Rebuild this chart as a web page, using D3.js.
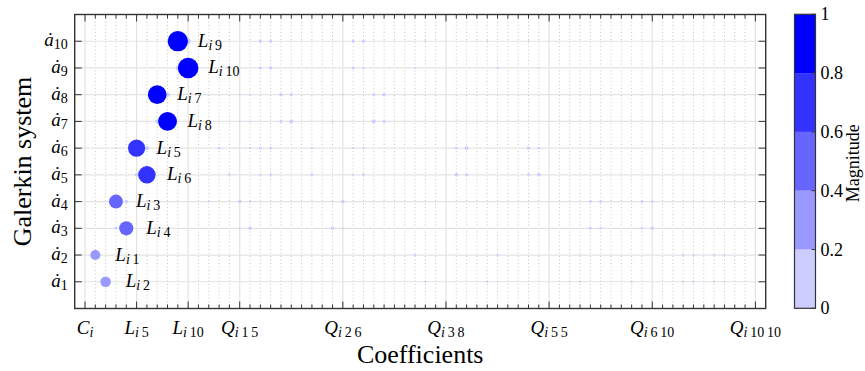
<!DOCTYPE html>
<html>
<head>
<meta charset="utf-8">
<script src="https://cdn.jsdelivr.net/npm/d3@7"></script>
<style>
    body { margin: 0; background: #fff; }
    svg { display: block; }
    svg text { font-family: "Liberation Serif", "Times New Roman", Times, "DejaVu Serif", serif; }
</style>
</head>
<body>
<div id="main"></div>
<script>
main = "#main"

// rows of the Galerkin system (a-dot 1..10)
let rowNames = ["1", "2", "3", "4", "5", "6", "7", "8", "9", "10"]

// x ticks: coefficient index -> label
let xTickPos = [1, 6, 11, 16, 26, 36, 46, 56, 66]
let xTickBase = ["C", "L", "L", "Q", "Q", "Q", "Q", "Q", "Q"]
let xTickSub = [[], ["5"], ["10"], ["1", "5"], ["2", "6"], ["3", "8"], ["5", "5"], ["6", "10"], ["10", "10"]]

// dominant linear term of each row
let mainRow = [1, 2, 3, 4, 5, 6, 7, 8, 9, 10]
let mainCoef = [3, 2, 5, 4, 7, 6, 9, 8, 11, 10]
let mainMag = [0.26, 0.24, 0.47, 0.46, 0.72, 0.69, 0.84, 0.82, 1.0, 0.97]
let mainSub = ["2", "1", "4", "3", "6", "5", "8", "7", "10", "9"]

// weak terms: [row, coefficient index, magnitude]
let weakTerms = [
    [10, 11, 0.07], [10, 18, 0.02], [10, 19, 0.02], [10, 27, 0.02], [10, 28, 0.02], [10, 34, 0.008], [10, 40, 0.008], [10, 44, 0.008],
    [9, 10, 0.05], [9, 18, 0.02], [9, 19, 0.025], [9, 27, 0.02], [9, 28, 0.015], [9, 33, 0.008], [9, 41, 0.012], [9, 45, 0.008],
    [8, 9, 0.05], [8, 16, 0.008], [8, 17, 0.008], [8, 20, 0.03], [8, 21, 0.02], [8, 25, 0.008], [8, 26, 0.008], [8, 29, 0.02], [8, 30, 0.03],
    [7, 8, 0.04], [7, 16, 0.008], [7, 17, 0.008], [7, 20, 0.02], [7, 21, 0.035], [7, 25, 0.008], [7, 26, 0.008], [7, 29, 0.035], [7, 30, 0.02],
    [6, 4, 0.008], [6, 7, 0.04], [6, 14, 0.015], [6, 17, 0.01], [6, 18, 0.015], [6, 19, 0.015], [6, 23, 0.01], [6, 27, 0.01], [6, 28, 0.01],
    [6, 37, 0.02], [6, 38, 0.03], [6, 44, 0.025], [6, 45, 0.015],
    [5, 6, 0.03], [5, 15, 0.015], [5, 18, 0.01], [5, 19, 0.015], [5, 23, 0.015], [5, 27, 0.01], [5, 28, 0.015], [5, 37, 0.03], [5, 38, 0.02],
    [5, 44, 0.015], [5, 45, 0.03],
    [4, 5, 0.03], [4, 13, 0.01], [4, 16, 0.03], [4, 17, 0.01], [4, 25, 0.01], [4, 26, 0.03], [4, 50, 0.02], [4, 51, 0.02], [4, 55, 0.02], [4, 56, 0.015],
    [3, 4, 0.02], [3, 16, 0.01], [3, 17, 0.03], [3, 25, 0.03], [3, 26, 0.01], [3, 50, 0.02], [3, 51, 0.015], [3, 55, 0.015], [3, 56, 0.025],
    [2, 33, 0.012], [2, 41, 0.012], [2, 49, 0.005], [2, 59, 0.01], [2, 60, 0.01], [2, 62, 0.01], [2, 63, 0.01],
    [1, 34, 0.012], [1, 40, 0.012], [1, 41, 0.005], [1, 48, 0.005], [1, 49, 0.01], [1, 54, 0.01], [1, 59, 0.01], [1, 60, 0.012], [1, 62, 0.01], [1, 63, 0.01]
]

// colour bar
let cbLevels = [0, 0.2, 0.4, 0.6, 0.8, 1]
let cbColors = ["#ccccff", "#9999ff", "#6666ff", "#3333ff", "#0000ff"]

let margin = {top: 14.5, right: 99.3, bottom: 62.5, left: 74.7},
    width = 865 - margin.left - margin.right,
    height = 371 - margin.top - margin.bottom;

let fs = 19, subFs = 14
let axisColor = "#333"
let serif = "'Liberation Serif', 'Times New Roman', Times, 'DejaVu Serif', serif"

let x = d3.scaleLinear().domain([0, 67]).range([0, width])
let y = d3.scaleLinear().domain([0, 11]).range([height, 0])
let r = d3.scaleSqrt().domain([0, 1]).range([0, 10.3])
let color = d3.scaleThreshold().domain(cbLevels.slice(1, -1)).range(cbColors)

let svgRoot = d3.select(main).append("svg")
    .attr("width", 865)
    .attr("height", 371)
    .attr("font-family", serif)

let svg = svgRoot.append("g")
    .attr("transform", "translate(" + margin.left + "," + margin.top + ")")

// writes  Base_{i a b}  style math text into a <text>
function mathText(sel, base, sub, withI) {
    sel.append("tspan").attr("font-style", "italic").text(base)
    let first = sel.append("tspan").attr("font-size", subFs).attr("dy", 3)
    if (withI) {
        first.attr("font-style", "italic").text("i")
        if (sub.length) sel.append("tspan").attr("font-size", subFs).text("\u2009" + sub.join("\u2009"))
    } else {
        first.text(sub.join(""))
    }
}

// grid
let allCoef = d3.range(1, 67)
svg.append("g").selectAll("line")
    .data(allCoef.filter(d => xTickPos.indexOf(d) < 0))
    .enter().append("line")
    .attr("x1", d => x(d)).attr("x2", d => x(d))
    .attr("y1", 0).attr("y2", height)
    .attr("stroke", "#c8c8c8")
    .attr("stroke-width", 1)
    .attr("stroke-dasharray", "1,2.5")

svg.append("g").selectAll("line")
    .data(xTickPos)
    .enter().append("line")
    .attr("x1", d => x(d)).attr("x2", d => x(d))
    .attr("y1", 0).attr("y2", height)
    .attr("stroke", "#e3e3e3")
    .attr("stroke-width", 1.2)

svg.append("g").selectAll("line")
    .data(rowNames)
    .enter().append("line")
    .attr("x1", 0).attr("x2", width)
    .attr("y1", d => y(+d)).attr("y2", d => y(+d))
    .attr("stroke", "#e3e3e3")
    .attr("stroke-width", 1.2)

// weak terms
svg.append("g").selectAll("circle")
    .data(weakTerms)
    .enter().append("circle")
    .attr("cx", d => x(d[1]))
    .attr("cy", d => y(d[0]))
    .attr("r", d => r(d[2]))
    .attr("fill", d => color(d[2]))

// dominant terms
let mainData = mainRow.map((row, i) => ({row: row, coef: mainCoef[i], mag: mainMag[i], sub: mainSub[i]}))

svg.append("g").selectAll("circle")
    .data(mainData)
    .enter().append("circle")
    .attr("cx", d => x(d.coef))
    .attr("cy", d => y(d.row))
    .attr("r", d => r(d.mag))
    .attr("fill", d => color(d.mag))

svg.append("g").selectAll("text")
    .data(mainData)
    .enter().append("text")
    .attr("x", d => x(d.coef) + 20)
    .attr("y", d => y(d.row) + 5.5)
    .attr("font-size", fs)
    .attr("fill", "#000")
    .each(function (d) { mathText(d3.select(this), "L", [d.sub], true) })

// axes box and ticks
let ticks = svg.append("g").attr("stroke", axisColor).attr("stroke-width", 1)
allCoef.forEach(function (c) {
    let len = xTickPos.indexOf(c) >= 0 ? 7 : 4
    ticks.append("line").attr("x1", x(c)).attr("x2", x(c)).attr("y1", height).attr("y2", height - len)
    ticks.append("line").attr("x1", x(c)).attr("x2", x(c)).attr("y1", 0).attr("y2", len)
})
rowNames.forEach(function (d) {
    ticks.append("line").attr("x1", 0).attr("x2", 7).attr("y1", y(+d)).attr("y2", y(+d))
    ticks.append("line").attr("x1", width - 7).attr("x2", width).attr("y1", y(+d)).attr("y2", y(+d))
})

svg.append("rect")
    .attr("width", width)
    .attr("height", height)
    .attr("fill", "none")
    .attr("stroke", axisColor)
    .attr("stroke-width", 1.4)

// tick labels
svg.append("g").selectAll("text")
    .data(xTickPos)
    .enter().append("text")
    .attr("x", d => x(d))
    .attr("y", height + 25)
    .attr("text-anchor", "middle")
    .attr("font-size", fs)
    .each(function (d, i) { mathText(d3.select(this), xTickBase[i], xTickSub[i], true) })

svg.append("g").selectAll("text")
    .data(rowNames)
    .enter().append("text")
    .attr("x", -7)
    .attr("y", d => y(+d) + 5)
    .attr("text-anchor", "end")
    .attr("font-size", fs)
    .each(function (d) { mathText(d3.select(this), "\u0227", [d], false) })

// axis titles
svg.append("text")
    .attr("x", width / 2)
    .attr("y", height + 54)
    .attr("text-anchor", "middle")
    .attr("font-size", 26)
    .text("Coefficients")

svg.append("text")
    .attr("transform", "translate(" + (-margin.left + 31) + "," + (height / 2) + ") rotate(-90)")
    .attr("text-anchor", "middle")
    .attr("font-size", 26)
    .text("Galerkin system")

// colour bar
let cbX = 794.5, cbW = 21
let cbY = d3.scaleLinear().domain([0, 1]).range([308.3, 14.3])
let cb = svgRoot.append("g")

cb.selectAll("rect.level")
    .data(cbColors)
    .enter().append("rect")
    .attr("class", "level")
    .attr("x", cbX)
    .attr("width", cbW)
    .attr("y", (d, i) => cbY(cbLevels[i + 1]))
    .attr("height", (d, i) => cbY(cbLevels[i]) - cbY(cbLevels[i + 1]))
    .attr("fill", d => d)

cb.selectAll("line.tick")
    .data(cbLevels)
    .enter().append("line")
    .attr("class", "tick")
    .attr("x1", cbX + cbW - 4).attr("x2", cbX + cbW)
    .attr("y1", d => cbY(d)).attr("y2", d => cbY(d))
    .attr("stroke", axisColor)

cb.append("rect")
    .attr("x", cbX).attr("y", cbY(1))
    .attr("width", cbW).attr("height", cbY(0) - cbY(1))
    .attr("fill", "none")
    .attr("stroke", axisColor)
    .attr("stroke-width", 1.2)

cb.selectAll("text.lab")
    .data(cbLevels)
    .enter().append("text")
    .attr("class", "lab")
    .attr("x", cbX + cbW + 5)
    .attr("y", d => cbY(d) + 6)
    .attr("font-size", 18)
    .text(d => d3.format("~g")(d))

cb.append("text")
    .attr("transform", "translate(859," + (cbY(0.5) + 2) + ") rotate(-90)")
    .attr("text-anchor", "middle")
    .attr("font-size", 18)
    .text("Magnitude")
</script>
</body>
</html>
